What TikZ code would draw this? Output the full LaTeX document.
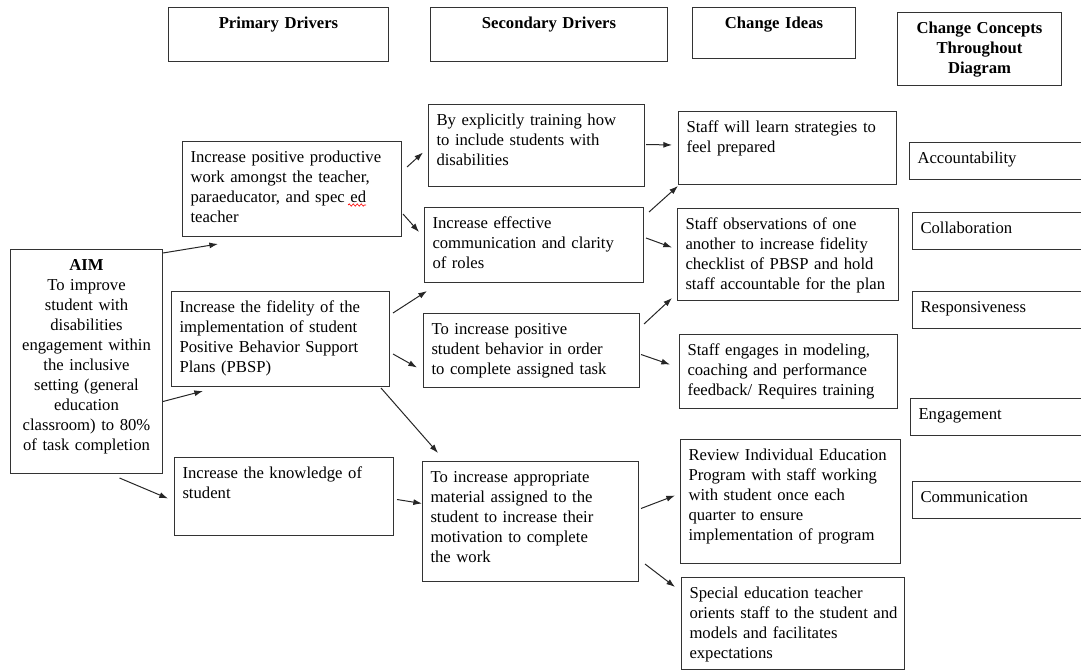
\documentclass[tikz,border=0pt]{standalone}
\usepackage{fontspec}
\setmainfont{Liberation Serif}
\usetikzlibrary{arrows.meta,calc,decorations.pathmorphing}

\tikzset{
  cell/.style={draw=black!80, line width=0.75pt, anchor=north west, align=left,
    inner xsep=6pt, inner ysep=4pt, text height=12pt,
    font=\fontsize{12.5}{15}\selectfont},
  head/.style={cell, align=center, font=\fontsize{12.5}{15}\selectfont\bfseries},
  concept/.style={cell, text width=130.5pt, text depth=7.75pt},
  arr/.style={-{Latex[length=6.5pt,width=4.5pt]}, line width=0.75pt, black!85}
}

\begin{document}
\begin{tikzpicture}[x=0.75pt, y=-0.75pt]
    \useasboundingbox (0,0) rectangle (1081,670);
    \hyphenpenalty=10000

    % Column headings
    \node[head, text width=153pt, text depth=20.5pt] (hprim) at (168,7) {Primary Drivers};
    \node[head, text width=165.75pt, text depth=20.5pt] (hsec) at (430,7) {Secondary Drivers};
    \node[head, text width=110.25pt, text depth=18.25pt] (hideas) at (692,7) {Change Ideas};
    \node[head, text width=111pt, text depth=34.75pt] (hconc) at (897,12) {Change Concepts\\ Throughout\\ Diagram};

    % Aim
    \node[cell, align=center, text width=102pt, text depth=148pt] (aim) at (10,249)
        {\textbf{AIM}\\ To improve\\ student with\\ disabilities\\ engagement within\\ the inclusive\\ setting (general\\ education\\ classroom) to 80\%\\ of task completion};

    % Primary drivers
    \node[cell, text width=152.25pt, text depth=51.25pt] (p1) at (182,141)
        {Increase positive productive\\ work amongst the teacher,\\ paraeducator, and spec ed\\ teacher};
    \node[cell, text width=151.5pt, text depth=51.25pt] (p2) at (171,291)
        {Increase the fidelity of the\\ implementation of student\\ Positive Behavior Support\\ Plans (PBSP)};
    \node[cell, text width=152.25pt, text depth=38.5pt] (p3) at (174,457)
        {Increase the knowledge of\\ student};

    % Secondary drivers
    \node[cell, text width=150pt, text depth=41.5pt] (s1) at (428,104)
        {By explicitly training how\\ to include students with\\ disabilities};
    \node[cell, text width=152.25pt, text depth=36.25pt] (s2) at (424,207)
        {Increase effective\\ communication and clarity\\ of roles};
    \node[cell, text width=150pt, text depth=35.5pt] (s3) at (423,313)
        {To increase positive\\ student behavior in order\\ to complete assigned task};
    \node[cell, text width=150pt, text depth=70pt] (s4) at (422,461)
        {To increase appropriate\\ material assigned to the\\ student to increase their\\ motivation to complete\\ the work};

    % Change ideas
    \node[cell, text width=151.5pt, text depth=34.75pt] (c1) at (678,111)
        {Staff will learn strategies to\\ feel prepared};
    \node[cell, text width=153.75pt, text depth=49pt] (c2) at (677,208)
        {Staff observations of one\\ another to increase fidelity\\ checklist of PBSP and hold\\ staff accountable for the plan};
    \node[cell, text width=151.5pt, text depth=35.5pt] (c3) at (679,334)
        {Staff engages in modeling,\\ coaching and performance\\ feedback/ Requires training};
    \node[cell, text width=153pt, text depth=73pt] (c4) at (680,439)
        {Review Individual Education\\ Program with staff working\\ with student once each\\ quarter to ensure\\ implementation of program};
    \node[cell, text width=155.25pt, text depth=49pt] (c5) at (681,577)
        {Special education teacher\\ \mbox{orients staff to the student and}\\ models and facilitates\\ expectations};

    % Change concepts (run off the right edge)
    \node[concept] (kacc) at (909,142) {Accountability};
    \node[concept] (kcol) at (912,212) {Collaboration};
    \node[concept] (kresp) at (912,291) {Responsiveness};
    \node[concept] (keng) at (910,398) {Engagement};
    \node[concept] (kcomm) at (912,481) {Communication};

    % spell check mark under "ed"
    \draw[red, line width=0.5pt, decorate, decoration={snake, amplitude=0.8pt, segment length=3pt}]
        ($(p1.north west)+(166,64)$) -- ($(p1.north west)+(184,64)$);

    % Aim to primary drivers
    \draw[arr] ($(aim.north east)+(0,4)$) -- ($(p1.south west)+(36,7)$);
    \draw[arr] ($(aim.east)+(0,40)$) -- ($(p2.south west)+(32,4)$);
    \draw[arr] ($(aim.south)+(33,4)$) -- ($(p3.west)+(-6,2)$);

    % Primary to secondary drivers
    \draw[arr] ($(p1.east)+(5,-22)$) -- ($(s1.west)+(-5,7)$);
    \draw[arr] ($(p1.east)+(1,25)$) -- ($(s2.west)+(-5,-13)$);
    \draw[arr] ($(p2.east)+(3,-26)$) -- ($(s2.south west)+(3,8)$);
    \draw[arr] ($(p2.east)+(3,15)$) -- ($(s3.west)+(-6,17)$);
    \draw[arr] ($(p2.south east)+(-9,1)$) -- ($(s4.north west)+(16,-8)$);
    \draw[arr] ($(p3.east)+(3,3)$) -- ($(s4.west)+(0,-18)$);

    % Secondary drivers to change ideas
    \draw[arr] ($(s1.east)+(1,-1)$) -- ($(c1.west)+(-6,-3)$);
    \draw[arr] ($(s2.north east)+(5,5)$) -- ($(c1.south west)+(0,1)$);
    \draw[arr] ($(s2.east)+(2,-7)$) -- ($(c2.west)+(-5,-7)$);
    \draw[arr] ($(s3.north east)+(4,11)$) -- ($(c2.south west)+(-5,-3)$);
    \draw[arr] ($(s3.east)+(1,4)$) -- ($(c3.west)+(-9,-7)$);
    \draw[arr] ($(s4.east)+(2,-13)$) -- ($(c4.west)+(-5,-6)$);
    \draw[arr] ($(s4.south east)+(6,-18)$) -- ($(c5.north west)+(-6,10)$);
\end{tikzpicture}
\end{document}
